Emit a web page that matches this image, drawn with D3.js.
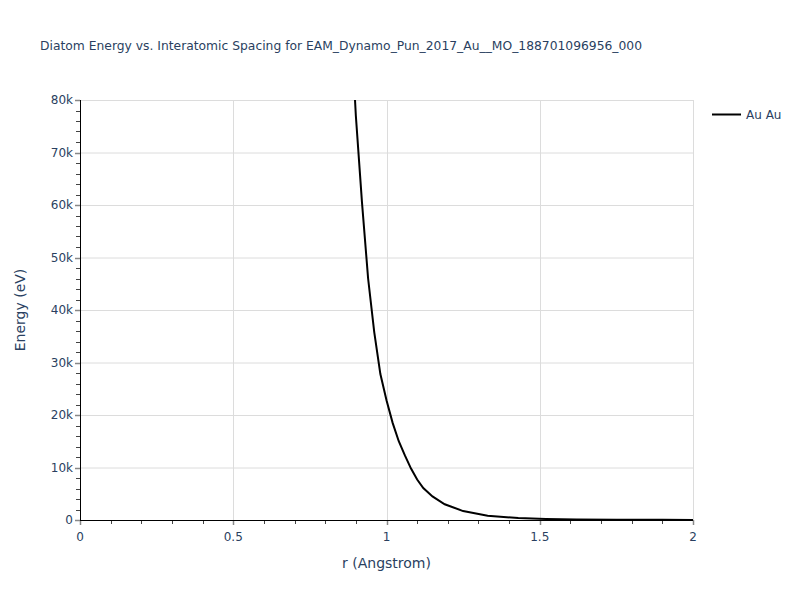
<!DOCTYPE html>
<html><head><meta charset="utf-8">
<script src="https://cdn.jsdelivr.net/npm/d3@7"></script>
<style>body{margin:0;background:#fff}text{font-family:"DejaVu Sans",Verdana,sans-serif}</style>
</head><body>
<script>
const title = "Diatom Energy vs. Interatomic Spacing for EAM_Dynamo_Pun_2017_Au__MO_188701096956_000";
const seriesName = "Au Au";
const rValues = [0.88,0.90,0.92,0.94,0.96,0.98,1.00,1.02,1.04,1.06,1.08,1.10,1.12,1.15,1.19,1.25,1.33,1.43,1.52,1.62,1.75,1.90,2.00];
const energyValues = [99000,77000,60500,46000,35800,27800,22800,18500,15000,12300,9800,7700,6100,4500,3000,1700,800,380,200,110,60,30,20];
const xTicks = [0,0.5,1,1.5,2];
const xTickLabels = ["0","0.5","1","1.5","2"];
const yTicks = [0,10000,20000,30000,40000,50000,60000,70000,80000];
const yTickLabels = ["0","10k","20k","30k","40k","50k","60k","70k","80k"];

const W=800,H=600, L=80,R=693,T=100,B=520;
const svg=d3.select("body").append("svg").attr("width",W).attr("height",H);
const x=d3.scaleLinear().domain([0,2]).range([L,R]);
const y=d3.scaleLinear().domain([0,80000]).range([B,T]);
const txt="#2a3f5f";

svg.append("g").selectAll("line").data(yTicks.slice(1)).join("line")
 .attr("x1",L).attr("x2",R).attr("y1",d=>y(d)+0.5).attr("y2",d=>y(d)+0.5)
 .attr("stroke","#dcdcdc").attr("stroke-width",1);
svg.append("g").selectAll("line").data(xTicks.slice(1)).join("line")
 .attr("y1",T).attr("y2",B).attr("x1",d=>Math.round(x(d))+0.5).attr("x2",d=>Math.round(x(d))+0.5)
 .attr("stroke","#dcdcdc").attr("stroke-width",1);

svg.append("clipPath").attr("id","clip").append("rect").attr("x",L).attr("y",T).attr("width",R-L).attr("height",B-T);
const line=d3.line().x((d,i)=>x(rValues[i])).y(d=>y(d)).curve(d3.curveLinear);
svg.append("path").datum(energyValues).attr("d",line).attr("clip-path","url(#clip)")
 .attr("fill","none").attr("stroke","#000").attr("stroke-width",2);

const xMinor=d3.range(0,2.0001,0.1);
svg.append("g").selectAll("line").data(xMinor).join("line")
 .attr("x1",d=>Math.round(x(d))+0.5).attr("x2",d=>Math.round(x(d))+0.5).attr("y1",B).attr("y2",B+4)
 .attr("stroke","#444").attr("stroke-width",1);
const yMinor=d3.range(0,80001,2000);
svg.append("g").selectAll("line").data(yMinor).join("line")
 .attr("y1",d=>Math.round(y(d))+0.5).attr("y2",d=>Math.round(y(d))+0.5).attr("x1",L-4).attr("x2",L)
 .attr("stroke","#444").attr("stroke-width",1);
svg.append("g").selectAll("line").data(xTicks).join("line")
 .attr("x1",d=>Math.round(x(d))+0.5).attr("x2",d=>Math.round(x(d))+0.5).attr("y1",B).attr("y2",B+5)
 .attr("stroke","#888").attr("stroke-width",1.5);
svg.append("g").selectAll("line").data(yTicks).join("line")
 .attr("y1",d=>Math.round(y(d))+0.5).attr("y2",d=>Math.round(y(d))+0.5).attr("x1",L-5).attr("x2",L)
 .attr("stroke","#888").attr("stroke-width",1.5);

svg.append("line").attr("x1",L+0.5).attr("x2",L+0.5).attr("y1",T).attr("y2",B+1).attr("stroke","#000");
svg.append("line").attr("x1",L).attr("x2",R).attr("y1",B+0.5).attr("y2",B+0.5).attr("stroke","#000");

svg.append("g").selectAll("text").data(xTicks).join("text")
 .attr("x",d=>x(d)).attr("y",B+21).attr("text-anchor","middle").attr("font-size",12).attr("fill",txt)
 .text((d,i)=>xTickLabels[i]);
svg.append("g").selectAll("text").data(yTicks).join("text")
 .attr("x",L-7).attr("y",d=>y(d)+4).attr("text-anchor","end").attr("font-size",12).attr("fill",txt)
 .text((d,i)=>yTickLabels[i]);

svg.append("text").attr("x",40).attr("y",50).attr("font-size",12.5).attr("fill",txt).attr("textLength",602).attr("lengthAdjust","spacingAndGlyphs").text(title);
svg.append("text").attr("x",(L+R)/2).attr("y",568).attr("text-anchor","middle").attr("font-size",14).attr("fill",txt).text("r (Angstrom)");
svg.append("text").attr("transform",`translate(25,${(T+B)/2}) rotate(-90)`).attr("text-anchor","middle").attr("font-size",14).attr("fill",txt).text("Energy (eV)");

svg.append("line").attr("x1",712).attr("x2",741).attr("y1",114.5).attr("y2",114.5).attr("stroke","#000").attr("stroke-width",2);
svg.append("text").attr("x",746).attr("y",119).attr("font-size",12).attr("fill",txt).text(seriesName);
</script>
</body></html>
